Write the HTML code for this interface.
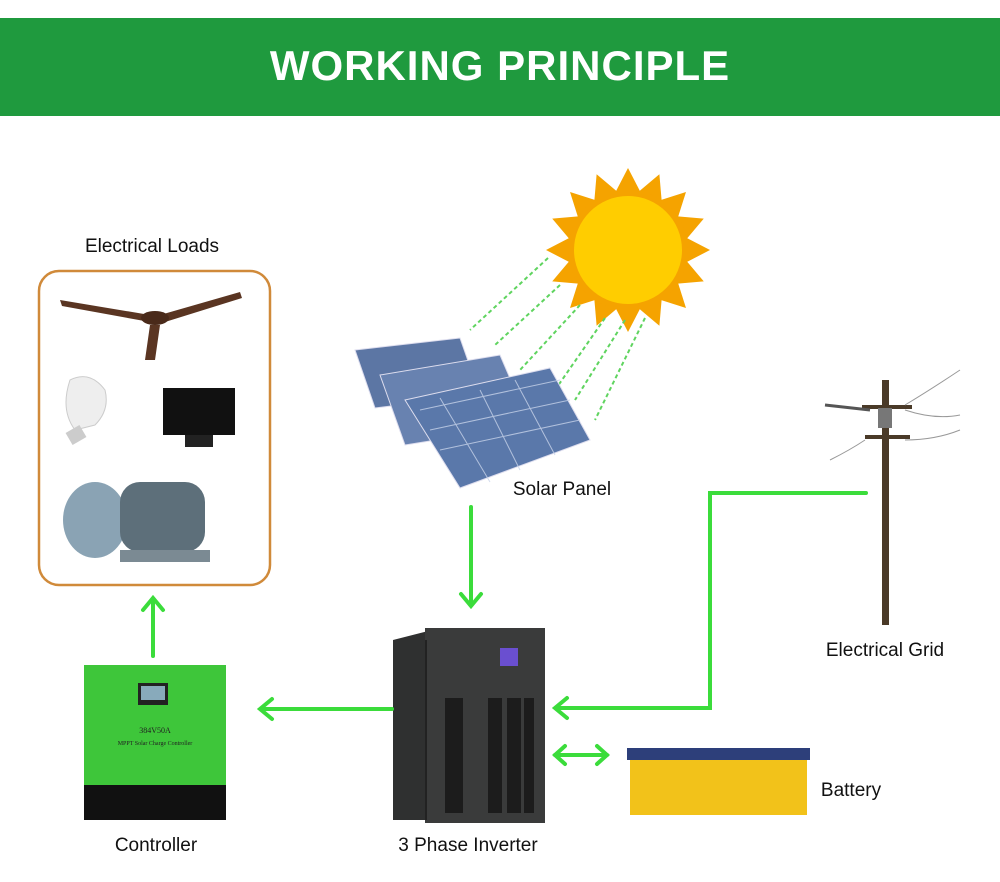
<!DOCTYPE html>
<html><head><meta charset="utf-8"><style>
body{margin:0;background:#fff;width:1000px;height:882px;overflow:hidden;font-family:"Liberation Sans",sans-serif}
.t{position:absolute;font-size:19px;color:#111;white-space:nowrap;transform:translateX(-50%)}
</style></head><body>
<div style="position:absolute;left:0;top:18px;width:1000px;height:98px;background:#1f9a3e"></div>
<div style="position:absolute;left:0;top:42px;width:1000px;text-align:center;color:#fff;font-weight:bold;font-size:42px;letter-spacing:1px">WORKING PRINCIPLE</div>
<svg width="1000" height="882" style="position:absolute;left:0;top:0">
<rect x="39" y="271" width="231" height="314" rx="20" fill="none" stroke="#d08a3a" stroke-width="2.5"/>
<path d="M60 300 L150 315 L150 322 L62 306Z M160 315 L240 292 L242 298 L165 322Z M150 325 L160 325 L155 360 L145 360Z" fill="#5a3522"/>
<ellipse cx="155" cy="318" rx="14" ry="7" fill="#4a2a1a"/>
<path d="M70 380 q20 -10 35 10 q5 20 -10 35 l-20 5 q-15-20 -5-50z" fill="#eee" stroke="#ccc"/>
<rect x="68" y="428" width="16" height="14" fill="#ccc" transform="rotate(-30 76 435)"/>
<rect x="163" y="388" width="72" height="47" fill="#111"/>
<rect x="185" y="435" width="28" height="12" fill="#222"/>
<ellipse cx="95" cy="520" rx="32" ry="38" fill="#8aa3b4"/>
<rect x="120" y="482" width="85" height="70" rx="20" fill="#5d6f7a"/>
<rect x="120" y="550" width="90" height="12" fill="#7b8a93"/>
<g transform="translate(628,250)">
<g fill="#f5a300">
<polygon points="0,-82 14,-55 -14,-55" transform="rotate(0)"/><polygon points="0,-82 14,-55 -14,-55" transform="rotate(22.5)"/><polygon points="0,-82 14,-55 -14,-55" transform="rotate(45)"/><polygon points="0,-82 14,-55 -14,-55" transform="rotate(67.5)"/><polygon points="0,-82 14,-55 -14,-55" transform="rotate(90)"/><polygon points="0,-82 14,-55 -14,-55" transform="rotate(112.5)"/><polygon points="0,-82 14,-55 -14,-55" transform="rotate(135)"/><polygon points="0,-82 14,-55 -14,-55" transform="rotate(157.5)"/><polygon points="0,-82 14,-55 -14,-55" transform="rotate(180)"/><polygon points="0,-82 14,-55 -14,-55" transform="rotate(202.5)"/><polygon points="0,-82 14,-55 -14,-55" transform="rotate(225)"/><polygon points="0,-82 14,-55 -14,-55" transform="rotate(247.5)"/><polygon points="0,-82 14,-55 -14,-55" transform="rotate(270)"/><polygon points="0,-82 14,-55 -14,-55" transform="rotate(292.5)"/><polygon points="0,-82 14,-55 -14,-55" transform="rotate(315)"/><polygon points="0,-82 14,-55 -14,-55" transform="rotate(337.5)"/>
</g>
<circle r="60" fill="#f5a300"/><circle r="54" fill="#ffcd00"/>
</g>
<g stroke="#5fd45f" stroke-width="2" stroke-dasharray="4,3">
<line x1="548" y1="258" x2="470" y2="330"/><line x1="560" y1="285" x2="495" y2="345"/><line x1="580" y1="305" x2="520" y2="370"/><line x1="605" y1="318" x2="555" y2="390"/><line x1="625" y1="320" x2="575" y2="400"/><line x1="645" y1="318" x2="595" y2="420"/>
</g>
<g stroke="#dde" stroke-width="1">
<polygon points="355,350 460,338 480,395 375,408" fill="#5c76a4"/>
<polygon points="380,375 500,355 530,425 405,445" fill="#6882b0"/>
<polygon points="405,400 550,368 590,440 460,488" fill="#5a78aa"/>
</g>
<g stroke="#c8d4ea" stroke-width="1" opacity=".8">
<line x1="420" y1="410" x2="560" y2="380"/><line x1="430" y1="430" x2="570" y2="400"/><line x1="440" y1="450" x2="580" y2="420"/>
<line x1="440" y1="398" x2="490" y2="482"/><line x1="480" y1="390" x2="520" y2="470"/><line x1="515" y1="380" x2="555" y2="455"/>
</g>
<rect x="882" y="380" width="7" height="245" fill="#4a3a28"/>
<rect x="862" y="405" width="50" height="4" fill="#4a3a28"/><rect x="865" y="435" width="45" height="4" fill="#4a3a28"/>
<rect x="878" y="408" width="14" height="20" fill="#777"/>
<path d="M825 405 L870 410" stroke="#555" stroke-width="3"/>
<g stroke="#999" fill="none"><path d="M905 405 Q930 390 960 370"/><path d="M905 410 Q935 420 960 415"/><path d="M905 440 Q935 440 960 430"/><path d="M865 440 Q850 450 830 460"/></g>
<polygon points="393,640 440,628 545,628 545,820 393,820" fill="#2f3030"/>
<rect x="425" y="628" width="120" height="195" fill="#3a3b3b"/>
<rect x="425" y="640" width="2" height="180" fill="#222"/>
<rect x="500" y="648" width="18" height="18" fill="#6a4fd0"/>
<g fill="#1c1c1c"><rect x="445" y="698" width="18" height="115"/><rect x="488" y="698" width="14" height="115"/><rect x="507" y="698" width="14" height="115"/><rect x="524" y="698" width="10" height="115"/></g>
<rect x="84" y="665" width="142" height="122" fill="#3ec63a"/>
<rect x="84" y="785" width="142" height="35" fill="#111"/>
<rect x="138" y="683" width="30" height="22" fill="#222"/><rect x="141" y="686" width="24" height="14" fill="#8ab"/>
<text x="155" y="733" font-size="8" fill="#222" text-anchor="middle" font-family="Liberation Serif">384V50A</text>
<text x="155" y="745" font-size="6" fill="#222" text-anchor="middle" font-family="Liberation Serif">MPPT Solar Charge Controller</text>
<rect x="627" y="748" width="183" height="12" fill="#2d3f7a"/>
<rect x="630" y="760" width="177" height="55" fill="#f2c21a"/>
<g stroke="#3bdc3b" stroke-width="4" fill="none" stroke-linecap="round">
<line x1="471" y1="507" x2="471" y2="604"/><polyline points="461,594 471,606 481,594"/>
<line x1="392" y1="709" x2="262" y2="709"/><polyline points="272,699 260,709 272,719"/>
<line x1="153" y1="656" x2="153" y2="600"/><polyline points="143,610 153,598 163,610"/>
<polyline points="866,493 710,493 710,708 557,708"/><polyline points="567,698 555,708 567,718"/>
<line x1="555" y1="755" x2="607" y2="755"/><polyline points="565,746 555,755 565,764"/><polyline points="597,746 607,755 597,764"/>
</g>
</svg>
<div class="t" style="left:152px;top:236px">Electrical Loads</div>
<div class="t" style="left:562px;top:479px">Solar Panel</div>
<div class="t" style="left:885px;top:640px">Electrical Grid</div>
<div class="t" style="left:851px;top:780px">Battery</div>
<div class="t" style="left:156px;top:835px">Controller</div>
<div class="t" style="left:468px;top:835px">3 Phase Inverter</div>
</body></html>
